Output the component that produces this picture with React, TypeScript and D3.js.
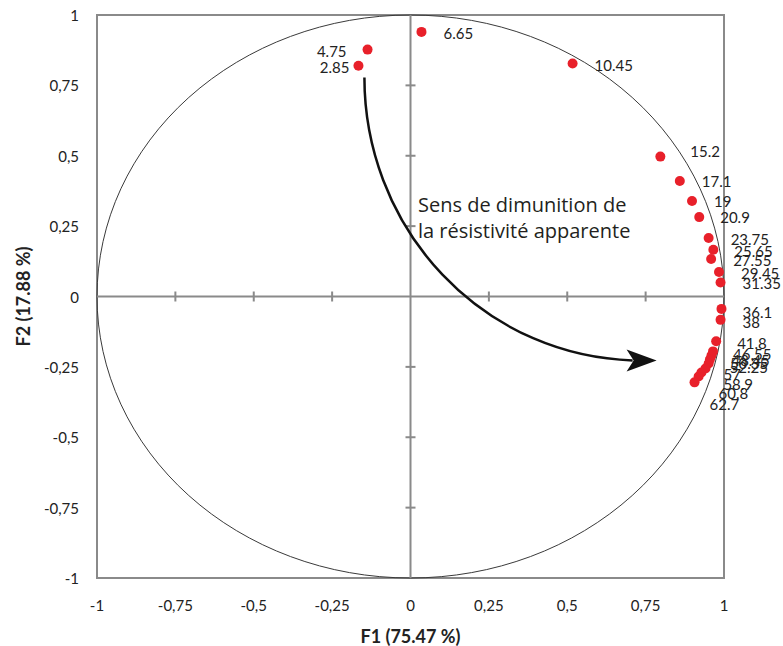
import React from "react";
import * as d3 from "d3";

// Variables (apparent-resistivity depths) and their coordinates on F1/F2
const labels = ["2.85","4.75","6.65","10.45","15.2","17.1","19","20.9","23.75","25.65","27.55","29.45","31.35","36.1","38","41.8","46.55","48.45","50.35","52.25","57","58.9","60.8","62.7"];
const f1 = [-0.166,-0.137,0.035,0.517,0.797,0.859,0.898,0.921,0.951,0.966,0.959,0.984,0.989,0.992,0.989,0.975,0.965,0.960,0.955,0.951,0.941,0.928,0.919,0.906];
const f2 = [0.82,0.877,0.94,0.828,0.497,0.41,0.339,0.282,0.208,0.166,0.133,0.087,0.05,-0.044,-0.083,-0.159,-0.195,-0.21,-0.224,-0.238,-0.256,-0.27,-0.284,-0.305];

// label placement offsets (px)
const labelDx = [-9,-21,22,22,30,22,22,21,22,21,22,22,22,21,22,21,20,20,20,21,18,22,20,15];
const labelDy = [1,1,1,2,-6,0,0,0,1,1,1,1,1,3,2,2,3,4,3,4,5,11,17,22];

const tickValues = [-1,-0.75,-0.5,-0.25,0,0.25,0.5,0.75,1];
const tickLabels = ["-1","-0,75","-0,5","-0,25","0","0,25","0,5","0,75","1"];

const xTitle = "F1 (75.47 %)";
const yTitle = "F2 (17.88 %)";
const noteLines = ["Sens de dimunition de", "la résistivité apparente"];
// arrow annotation start/end in data coordinates
const arrowStart = [-0.147, 0.778];
const arrowEnd = [0.734, -0.227];

export default function App() {
  const W = 783, H = 646;
  const x = d3.scaleLinear().domain([-1, 1]).range([97, 724]);
  const y = d3.scaleLinear().domain([-1, 1]).range([578, 15]);
  const axisColor = "#8a8a8a";
  const font = "Lato, 'Open Sans', sans-serif";

  const ax0 = x(arrowStart[0]), ay0 = y(arrowStart[1]);
  const ax1 = x(arrowEnd[0]), ay1 = y(arrowEnd[1]);
  const rx = ax1 - ax0, ry = ay1 - ay0;
  const arrowPath = `M${ax0},${ay0} A${rx},${ry} 0 0 0 ${ax1 - 8},${ay1}`;
  const head = `M${ax1 + 16},${ay1} L${ax1 - 14},${ay1 - 11} L${ax1 - 7},${ay1} L${ax1 - 14},${ay1 + 11} Z`;

  return (
    <svg width={W} height={H} style={{ position: "absolute", left: 0, top: 0, background: "#fff" }}>
      {/* frame */}
      <rect x={x(-1)} y={y(1)} width={x(1) - x(-1)} height={y(-1) - y(1)} fill="none" stroke={axisColor} strokeWidth={2} />
      {/* unit circle */}
      <ellipse cx={x(0)} cy={y(0)} rx={x(1) - x(0)} ry={y(0) - y(1)} fill="none" stroke="#3a3a3a" strokeWidth={1} />
      {/* zero axes */}
      <line x1={x(-1)} x2={x(1)} y1={y(0)} y2={y(0)} stroke={axisColor} strokeWidth={2} />
      <line x1={x(0)} x2={x(0)} y1={y(-1)} y2={y(1)} stroke={axisColor} strokeWidth={2} />
      {tickValues.filter(v => Math.abs(v) < 1 && v !== 0).map((v, i) => (
        <g key={"t" + i}>
          <line x1={x(v)} x2={x(v)} y1={y(0) - 5} y2={y(0) + 5} stroke={axisColor} strokeWidth={2} />
          <line x1={x(0) - 5} x2={x(0) + 5} y1={y(v)} y2={y(v)} stroke={axisColor} strokeWidth={2} />
        </g>
      ))}
      {/* tick labels */}
      {tickValues.map((v, i) => (
        <text key={"xl" + i} x={x(v)} y={605} textAnchor="middle" dominantBaseline="central" fontFamily={font} fontSize={15} fill="#222">{tickLabels[i]}</text>
      ))}
      {tickValues.map((v, i) => (
        <text key={"yl" + i} x={79} y={y(v)} textAnchor="end" dominantBaseline="central" fontFamily={font} fontSize={15} fill="#222">{tickLabels[i]}</text>
      ))}
      {/* axis titles */}
      <text x={x(0)} y={636} textAnchor="middle" dominantBaseline="central" fontFamily={font} fontWeight="bold" fontSize={18} fill="#222">{xTitle}</text>
      <text transform={`translate(23,${y(0)}) rotate(-90)`} textAnchor="middle" dominantBaseline="central" fontFamily={font} fontWeight="bold" fontSize={18} fill="#222">{yTitle}</text>
      {/* annotation */}
      <path d={arrowPath} fill="none" stroke="#111" strokeWidth={2.5} />
      <path d={head} fill="#111" />
      {noteLines.map((t, i) => (
        <text key={"n" + i} x={418} y={212 + i * 26} fontFamily="'Open Sans', sans-serif" fontSize={20} fill="#231f20">{t}</text>
      ))}
      {/* points */}
      {labels.map((l, i) => (
        <circle key={"p" + i} cx={x(f1[i])} cy={y(f2[i])} r={5} fill="#e8202a" />
      ))}
      {labels.map((l, i) => (
        <text key={"l" + i} x={x(f1[i]) + labelDx[i]} y={y(f2[i]) + labelDy[i]} textAnchor={labelDx[i] < 0 ? "end" : "start"} dominantBaseline="central" fontFamily={font} fontSize={15} fill="#222">{l}</text>
      ))}
    </svg>
  );
}
